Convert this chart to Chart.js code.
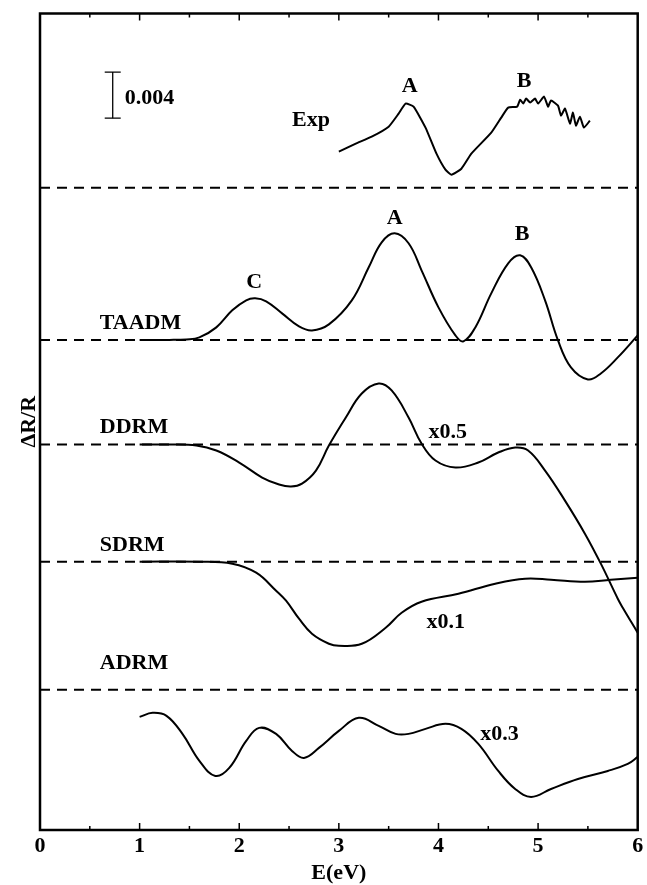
<!DOCTYPE html>
<html>
<head>
<meta charset="utf-8">
<script src="https://cdn.jsdelivr.net/npm/chart.js@4"></script>
<style>
  html, body { margin: 0; padding: 0; background: #fff; overflow: hidden; }
  canvas { display: block; }
</style>
</head>
<body>
<canvas id="spectra" width="647" height="885"></canvas>
<script>
// Each trace is stored relative to its own dashed zero line (arbitrary units, stacked)
const curveNames = ['Exp', 'TAADM', 'DDRM', 'SDRM', 'ADRM'];
const baselineLevels = [64.15, 48.95, 38.5, 26.8, 14.0];

const expE = [3.00, 3.17, 3.33, 3.50, 3.60, 3.67, 3.75, 3.87, 3.98, 4.07, 4.13, 4.23, 4.33, 4.53, 4.63, 4.70,
  4.79, 4.82, 4.85, 4.88, 4.92, 4.97, 5.00, 5.06, 5.10, 5.13, 5.20, 5.23, 5.27, 5.32, 5.35, 5.38, 5.42, 5.46, 5.52];
const expDR = [3.6, 4.4, 5.1, 6.1, 7.4, 8.4, 8.1, 6.0, 3.4, 1.8, 1.3, 1.9, 3.4, 5.5, 7.0, 8.0,
  8.1, 8.8, 8.4, 8.9, 8.5, 8.9, 8.4, 9.1, 8.1, 8.7, 8.2, 7.2, 7.9, 6.4, 7.5, 6.2, 7.1, 6.0, 6.7];

const taadmE = [1.0, 1.3, 1.47, 1.6, 1.77, 1.93, 2.07, 2.16, 2.27, 2.43, 2.6, 2.73, 2.9, 3.13, 3.3, 3.43, 3.56,
  3.7, 3.83, 4.0, 4.17, 4.25, 4.37, 4.53, 4.7, 4.82, 4.93, 5.07, 5.2, 5.33, 5.5, 5.63, 5.8, 6.0];
const taadmDR = [0, 0, 0.05, 0.25, 1.25, 2.95, 3.95, 4.15, 3.85, 2.65, 1.35, 0.95, 1.55, 3.95, 7.25, 9.75, 10.65,
  9.65, 6.95, 3.25, 0.45, -0.15, 1.25, 4.65, 7.65, 8.45, 7.25, 3.95, -0.05, -2.75, -3.95, -3.35, -1.75, 0.45];

const ddrmE = [1.0, 1.3, 1.57, 1.77, 2.0, 2.23, 2.4, 2.52, 2.63, 2.77, 2.9, 3.07, 3.23, 3.4, 3.53, 3.7, 3.83,
  3.97, 4.17, 4.4, 4.6, 4.77, 4.9, 5.07, 5.27, 5.47, 5.63, 5.8, 5.85, 6.0];
const ddrmDR = [0, 0, -0.1, -0.6, -1.8, -3.3, -4.0, -4.2, -3.9, -2.6, -0.1, 2.7, 5.1, 6.1, 5.4, 2.7, 0.1,
  -1.6, -2.3, -1.8, -0.8, -0.3, -0.6, -2.6, -5.6, -8.9, -11.9, -15.4, -16.3, -18.8];

const sdrmE = [1.0, 1.6, 1.93, 2.17, 2.37, 2.47, 2.6, 2.73, 2.9, 3.0, 3.23, 3.47, 3.63, 3.83, 4.2, 4.57, 4.87,
  5.13, 5.47, 5.73, 6.0];
const sdrmDR = [0, 0, -0.2, -1.1, -2.9, -3.9, -5.7, -7.2, -8.2, -8.4, -8.2, -6.6, -5.1, -4.0, -3.2, -2.2, -1.7,
  -1.8, -2.0, -1.8, -1.6];

const adrmE = [1.0, 1.13, 1.27, 1.43, 1.6, 1.76, 1.9, 2.07, 2.2, 2.37, 2.53, 2.65, 2.8, 3.0, 3.2, 3.4, 3.57,
  3.7, 3.87, 4.07, 4.23, 4.4, 4.6, 4.77, 4.93, 5.13, 5.4, 5.7, 5.9, 6.0];
const adrmDR = [-2.7, -2.3, -2.6, -4.4, -7.1, -8.6, -7.8, -5.1, -3.8, -4.4, -6.1, -6.8, -5.8, -4.1, -2.8, -3.6, -4.4,
  -4.4, -3.9, -3.4, -3.9, -5.4, -8.1, -9.9, -10.7, -9.9, -8.9, -8.1, -7.4, -6.7];

// 0.004 scale bar ends
const scaleBarE = 0.73;
const scaleBarEnds = [75.7, 71.1];

// text placed inside the frame: [text, E, level, align]
const annotations = [
  ['0.004', 0.85, 73.1, 'left'],
  ['Exp', 2.72, 70.9, 'center'],
  ['A', 3.71, 74.3, 'center'],
  ['B', 4.86, 74.8, 'center'],
  ['C', 2.15, 54.7, 'center'],
  ['TAADM', 0.6, 50.6, 'left'],
  ['A', 3.56, 61.1, 'center'],
  ['B', 4.84, 59.5, 'center'],
  ['DDRM', 0.6, 40.2, 'left'],
  ['x0.5', 3.9, 39.7, 'left'],
  ['SDRM', 0.6, 28.4, 'left'],
  ['x0.1', 3.88, 20.7, 'left'],
  ['ADRM', 0.6, 16.6, 'left'],
  ['x0.3', 4.42, 9.6, 'left']
];

const SERIF = '"Liberation Serif", "Times New Roman", serif';

function trace(es, drs, level) {
  return es.map((e, i) => ({ x: e, y: level + drs[i] }));
}

function curve(data, tension) {
  return {
    data,
    borderColor: '#000',
    borderWidth: 2,
    pointRadius: 0,
    fill: false,
    tension
  };
}

const datasets = [];

// dashed zero lines
baselineLevels.forEach(level => {
  datasets.push({
    data: [{ x: 0, y: level }, { x: 6, y: level }],
    borderColor: '#000',
    borderWidth: 2,
    borderDash: [10, 7],
    pointRadius: 0,
    fill: false
  });
});

datasets.push(curve(trace(expE, expDR, baselineLevels[0]), 0.15));
datasets.push(curve(trace(taadmE, taadmDR, baselineLevels[1]), 0.4));
datasets.push(curve(trace(ddrmE, ddrmDR, baselineLevels[2]), 0.4));
datasets.push(curve(trace(sdrmE, sdrmDR, baselineLevels[3]), 0.4));
datasets.push(curve(trace(adrmE, adrmDR, baselineLevels[4]), 0.4));

// scale bar with end caps
datasets.push({
  data: scaleBarEnds.map(v => ({ x: scaleBarE, y: v })),
  borderColor: '#000',
  borderWidth: 1.3,
  pointStyle: 'line',
  pointRadius: 8,
  pointBorderWidth: 1.3,
  pointBorderColor: '#000',
  fill: false
});

const frameAndLabels = {
  id: 'frameAndLabels',
  afterDraw(chart) {
    const { ctx, chartArea: a, scales: { x, y } } = chart;
    ctx.save();
    ctx.strokeStyle = '#000';
    ctx.lineWidth = 1.5;
    x.ticks.forEach(t => {
      if (t.value <= 0 || t.value >= 6) return;
      const px = x.getPixelForValue(t.value);
      const len = Number.isInteger(t.value) ? 7 : 4;
      ctx.beginPath();
      ctx.moveTo(px, a.bottom);
      ctx.lineTo(px, a.bottom - len);
      ctx.moveTo(px, a.top);
      ctx.lineTo(px, a.top + len);
      ctx.stroke();
    });
    ctx.lineWidth = 2.5;
    ctx.strokeRect(a.left, a.top, a.right - a.left, a.bottom - a.top);

    ctx.fillStyle = '#000';
    ctx.font = 'bold 22px ' + SERIF;
    ctx.textBaseline = 'middle';
    annotations.forEach(([text, e, level, align]) => {
      ctx.textAlign = align;
      ctx.fillText(text, x.getPixelForValue(e), y.getPixelForValue(level));
    });
    ctx.restore();
  }
};

new Chart(document.getElementById('spectra'), {
  type: 'line',
  data: { datasets },
  options: {
    responsive: false,
    animation: false,
    devicePixelRatio: 1,
    layout: { padding: { left: 15, right: 6.5, top: 13.5, bottom: 1 } },
    plugins: { legend: { display: false }, tooltip: { enabled: false } },
    scales: {
      x: {
        type: 'linear',
        min: 0,
        max: 6,
        grid: { display: false, drawTicks: false },
        border: { display: false },
        // the end labels may hang over the frame; don't shrink the plot for them
        afterFit(scale) {
          scale.paddingLeft = 0;
          scale.paddingRight = 0;
        },
        ticks: {
          stepSize: 0.5,
          autoSkip: false,
          maxRotation: 0,
          padding: 5,
          color: '#000',
          font: { family: SERIF, size: 22, weight: 'bold', lineHeight: 1 },
          callback: v => Number.isInteger(v) ? String(v) : ''
        },
        title: {
          display: true,
          text: 'E(eV)',
          color: '#000',
          padding: { top: 0, bottom: 0 },
          font: { family: SERIF, size: 22, weight: 'bold', lineHeight: 1 }
        }
      },
      y: {
        type: 'linear',
        min: 0,
        max: 81.55,
        grid: { display: false, drawTicks: false },
        border: { display: false },
        ticks: { display: false },
        title: {
          display: true,
          text: 'ΔR/R',
          color: '#000',
          padding: { top: 3, bottom: 0 },
          font: { family: SERIF, size: 22, weight: 'bold', lineHeight: 1 }
        }
      }
    }
  },
  plugins: [frameAndLabels]
});
</script>
</body>
</html>
